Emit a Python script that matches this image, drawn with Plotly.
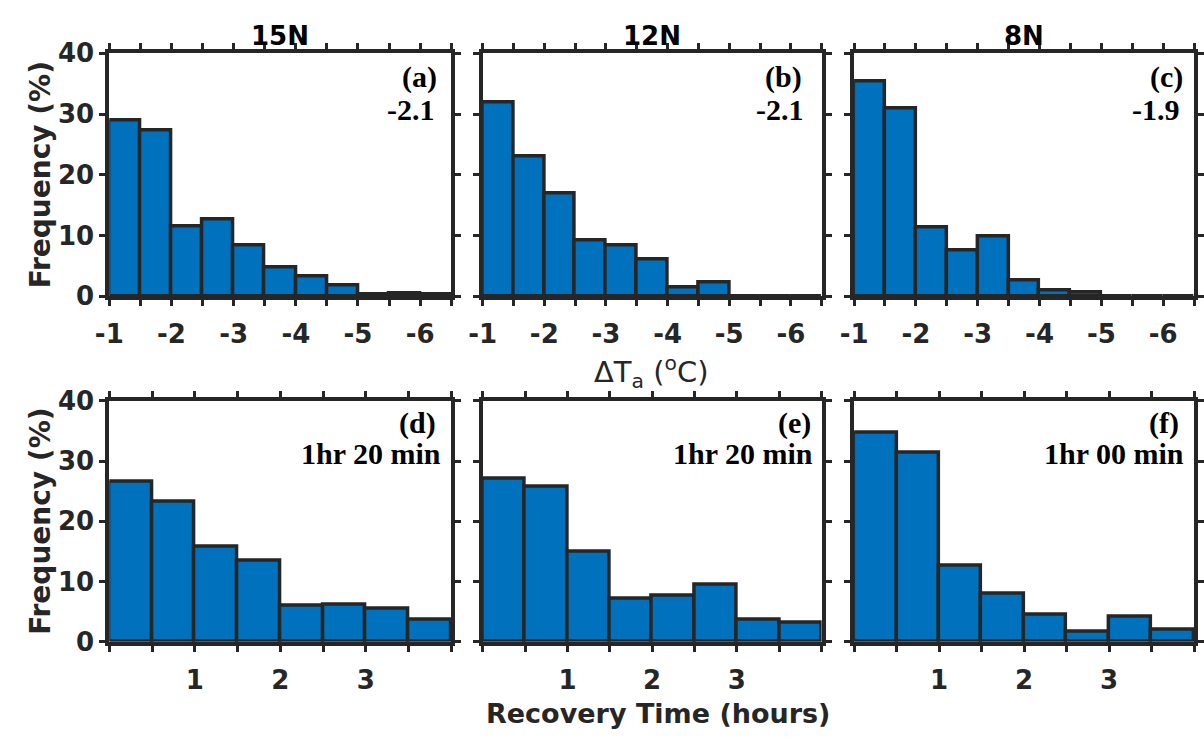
import plotly.graph_objects as go
from plotly.subplots import make_subplots

# ---------------- data ----------------
dt_centers = [-1.25, -1.75, -2.25, -2.75, -3.25, -3.75, -4.25, -4.75, -5.25, -5.75, -6.25]
freq_a = [29.0, 27.3, 11.5, 12.7, 8.4, 4.7, 3.3, 1.8, 0.3, 0.5, 0.3]
freq_b = [32.0, 23.1, 17.0, 9.2, 8.4, 6.1, 1.4, 2.2, 0.0, 0.0, 0.0]
freq_c = [35.4, 30.9, 11.3, 7.5, 9.9, 2.6, 0.9, 0.7, 0.0, 0.0, 0.0]

rt_centers = [0.25, 0.75, 1.25, 1.75, 2.25, 2.75, 3.25, 3.75]
freq_d = [26.5, 23.3, 15.8, 13.5, 5.9, 6.2, 5.4, 3.7]
freq_e = [27.1, 25.7, 14.9, 7.1, 7.7, 9.4, 3.7, 3.2]
freq_f = [34.7, 31.3, 12.6, 8.0, 4.4, 1.7, 4.1, 2.0]

col_titles = ["15N", "12N", "8N"]
panel_tags = ["(a)", "(b)", "(c)", "(d)", "(e)", "(f)"]
panel_stats = ["-2.1", "-2.1", "-1.9", "1hr 20 min", "1hr 20 min", "1hr 00 min"]

dt_tickvals = [-1, -1.5, -2, -2.5, -3, -3.5, -4, -4.5, -5, -5.5, -6, -6.5]
dt_ticktext = ["-1", "", "-2", "", "-3", "", "-4", "", "-5", "", "-6", ""]
rt_tickvals = [0, 0.5, 1, 1.5, 2, 2.5, 3, 3.5, 4]
rt_ticktext = ["", "", "1", "", "2", "", "3", "", ""]
y_tickvals = [0, 10, 20, 30, 40]

# ---------------- style ----------------
W, H = 1204, 745
BAR = "#0072BD"
EDGE = "#262626"
TXT = "#262626"
SANS = "DejaVu Sans"
SERIF = "Liberation Serif"

col_px = [(97, 445), (477, 822), (855, 1201)]
row_px = [(40, 293), (402, 653)]

fig = make_subplots(rows=2, cols=3)

top_series = [freq_a, freq_b, freq_c]
bot_series = [freq_d, freq_e, freq_f]

for c in range(3):
    fig.add_trace(go.Bar(x=dt_centers, y=top_series[c], width=0.5,
                         marker=dict(color=BAR, line=dict(color=EDGE, width=3.5)),
                         showlegend=False), row=1, col=c + 1)
    fig.add_trace(go.Bar(x=rt_centers, y=bot_series[c], width=0.5,
                         marker=dict(color=BAR, line=dict(color=EDGE, width=3.5)),
                         showlegend=False), row=2, col=c + 1)

tickfont = dict(family=SANS, size=26, color=TXT, weight="bold")

for r in range(2):
    for c in range(3):
        idx = r * 3 + c + 1
        xd = [col_px[c][0] / W, col_px[c][1] / W]
        yd = [1 - row_px[r][1] / H, 1 - row_px[r][0] / H]
        xk = "xaxis" if idx == 1 else f"xaxis{idx}"
        yk = "yaxis" if idx == 1 else f"yaxis{idx}"
        if r == 0:
            xr = [-1, -6.5]
            tv, tt = dt_tickvals, dt_ticktext
        else:
            xr = [0, 4]
            tv, tt = rt_tickvals, rt_ticktext
        fig.update_layout({
            xk: dict(domain=xd, range=xr, tickmode="array", tickvals=tv, ticktext=tt,
                     showline=True, linecolor=EDGE, linewidth=4, mirror="ticks",
                     ticks="outside", ticklen=6, tickwidth=3, tickcolor=EDGE,
                     showgrid=False, zeroline=False, tickfont=tickfont,
                     ticklabelstandoff=6, fixedrange=True),
            yk: dict(domain=yd, range=[0, 40], tickmode="array", tickvals=y_tickvals,
                     showline=True, linecolor=EDGE, linewidth=4, mirror="ticks",
                     ticks="outside", ticklen=6, tickwidth=3, tickcolor=EDGE,
                     showgrid=False, zeroline=False, tickfont=tickfont,
                     showticklabels=(c == 0), ticklabelstandoff=0, fixedrange=True),
        })

annotations = []
# column titles
for c in range(3):
    annotations.append(dict(text=col_titles[c], xref="paper", yref="paper",
                            x=(col_px[c][0] + col_px[c][1]) / 2 / W, y=1 - 22 / H,
                            xanchor="center", yanchor="middle", showarrow=False,
                            font=dict(family=SANS, size=26, color="#000000", weight="bold")))

# panel labels
tag_pos = [(0.965, 0.901), (0.948, 0.901), (0.974, 0.901),
           (0.962, 0.908), (0.974, 0.908), (0.962, 0.908)]
stat_pos = [(0.958, 0.767), (0.954, 0.767), (0.966, 0.767),
            (0.977, 0.781), (0.98, 0.781), (0.977, 0.781)]
for i in range(6):
    xr_ = "x domain" if i == 0 else f"x{i + 1} domain"
    yr_ = "y domain" if i == 0 else f"y{i + 1} domain"
    annotations.append(dict(text=panel_tags[i], xref=xr_, yref=yr_,
                            x=tag_pos[i][0], y=tag_pos[i][1], xanchor="right", yanchor="middle",
                            showarrow=False,
                            font=dict(family=SERIF, size=30, color="#000000", weight="bold")))
    annotations.append(dict(text=panel_stats[i], xref=xr_, yref=yr_,
                            x=stat_pos[i][0], y=stat_pos[i][1], xanchor="right", yanchor="middle",
                            showarrow=False,
                            font=dict(family=SERIF, size=30, color="#000000", weight="bold")))

# y axis titles
for r in range(2):
    annotations.append(dict(text="Frequency (%)", xref="paper", yref="paper",
                            x=27 / W, y=1 - (row_px[r][0] + row_px[r][1]) / 2 / H,
                            xanchor="center", yanchor="middle", textangle=-90, showarrow=False,
                            font=dict(family=SANS, size=28, color=TXT, weight="bold")))

# x axis titles
annotations.append(dict(text="ΔT<sub>a</sub> (<sup>o</sup>C)", xref="paper", yref="paper",
                        x=649 / W, y=1 - 372 / H, xanchor="center", yanchor="middle",
                        showarrow=False, font=dict(family=SANS, size=29, color=TXT)))
annotations.append(dict(text="Recovery Time (hours)", xref="paper", yref="paper",
                        x=655 / W, y=1 - 728 / H, xanchor="center", yanchor="middle",
                        showarrow=False,
                        font=dict(family=SANS, size=27, color=TXT, weight="bold")))

fig.update_layout(width=W, height=H, margin=dict(l=0, r=0, t=0, b=0),
                  paper_bgcolor="white", plot_bgcolor="white",
                  annotations=annotations, bargap=0, showlegend=False)

fig.write_html("out.html")
